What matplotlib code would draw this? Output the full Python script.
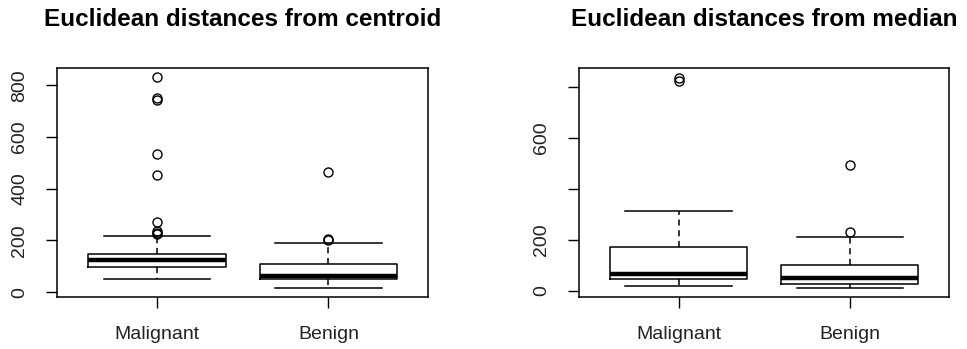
import matplotlib
matplotlib.use("Agg")
import matplotlib.pyplot as plt

plt.rcParams["font.family"] = ["Liberation Sans", "DejaVu Sans"]

groups = ["Malignant", "Benign"]

# five-number summaries: whislo, q1, med, q3, whishi
centroid_stats = [[50, 98, 124, 148, 218], [15, 49, 63, 108, 190]]
centroid_fliers = [[831, 753, 743, 534, 454, 272, 236, 230, 226], [464, 206, 200]]

median_stats = [[20, 45, 66, 171, 312], [11, 25, 50, 100, 211]]
median_fliers = [[835, 825], [493, 232]]


def make_stats(stats, fliers):
    out = []
    for name, s, f in zip(groups, stats, fliers):
        out.append(dict(label=name, whislo=s[0], q1=s[1], med=s[2], q3=s[3],
                        whishi=s[4], fliers=f))
    return out


def draw(ax, stats, fliers, title, ylim, ylabels):
    ax.bxp(make_stats(stats, fliers), positions=[1, 2], widths=0.8,
           capwidths=0.62,
           boxprops=dict(color="black", linewidth=1.1),
           medianprops=dict(color="black", linewidth=3.2, solid_capstyle="butt"),
           whiskerprops=dict(color="black", linewidth=1.1, linestyle=(0, (4, 3))),
           capprops=dict(color="black", linewidth=1.1),
           flierprops=dict(marker="o", markerfacecolor="none",
                           markeredgecolor="black", markersize=6.5,
                           markeredgewidth=1.0))
    ax.set_xlim(0.42, 2.58)
    ax.set_ylim(*ylim)
    ax.set_yticks([0, 200, 400, 600, 800])
    ax.set_yticklabels(ylabels, rotation=90, va="center", fontsize=14,
                       color="#222222")
    ax.set_xticks([1, 2])
    ax.set_xticklabels(groups, fontsize=14, color="#222222")
    ax.tick_params(axis="both", length=8, width=1.0, color="black")
    ax.tick_params(axis="x", pad=13)
    ax.tick_params(axis="y", pad=13)
    for sp in ax.spines.values():
        sp.set_linewidth(1.1)
    ax.set_title(title, fontsize=17.5, fontweight="bold", pad=30.5)


fig = plt.figure(figsize=(9.67, 3.49), dpi=100)
ax1 = fig.add_axes([0.0593, 0.149, 0.3833, 0.655])
ax2 = fig.add_axes([0.599, 0.149, 0.3823, 0.655])

draw(ax1, centroid_stats, centroid_fliers, "Euclidean distances from centroid",
     (-19, 866), ["0", "200", "400", "600", "800"])
draw(ax2, median_stats, median_fliers, "Euclidean distances from median",
     (-25, 874), ["0", "200", "", "600", ""])

fig.savefig("out.png", dpi=100)
